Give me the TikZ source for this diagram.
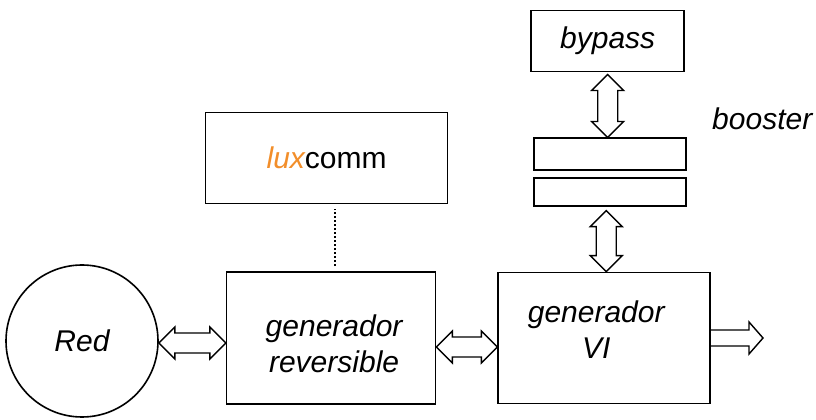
\documentclass[tikz,border=0pt]{standalone}
\usepackage{fontspec}
\setmainfont{Liberation Sans}
\usepackage{tikz}
\usetikzlibrary{positioning,calc}
\definecolor{luxorange}{RGB}{242,142,42}
\newcommand{\HDblArrow}[2]{%
  \draw[fatarrow] let \p1=(#1), \p2=(#2) in
    (\x1,\y1) -- (\x1+16pt,\y1+16pt) -- (\x1+16pt,\y1+10pt) -- (\x2-16pt,\y1+10pt)
    -- (\x2-16pt,\y1+16pt) -- (\x2,\y1) -- (\x2-16pt,\y1-16pt) -- (\x2-16pt,\y1-10pt)
    -- (\x1+16pt,\y1-10pt) -- (\x1+16pt,\y1-16pt) -- cycle;}
\newcommand{\VDblArrow}[2]{%
  \draw[fatarrow] let \p1=(#1), \p2=(#2) in
    (\x1,\y1) -- (\x1+16pt,\y1-16pt) -- (\x1+10pt,\y1-16pt) -- (\x1+10pt,\y2+16pt)
    -- (\x1+16pt,\y2+16pt) -- (\x1,\y2) -- (\x1-16pt,\y2+16pt) -- (\x1-10pt,\y2+16pt)
    -- (\x1-10pt,\y1-16pt) -- (\x1-16pt,\y1-16pt) -- cycle;}

\begin{document}
\begin{tikzpicture}[x=1pt, y=1pt,
    font=\fontsize{30}{36}\selectfont,
    blk/.style={draw, line width=1.6pt, align=center, inner sep=0pt},
    bar/.style={draw, line width=1.6pt, minimum width=152pt, inner sep=0pt},
    round/.style={draw, circle, line width=1.6pt, minimum size=152pt, inner sep=0pt},
    inside/.style={align=center, inner sep=0pt},
    fatarrow/.style={draw, line width=1.4pt, line join=miter, fill=white}]
  \useasboundingbox (0,0) rectangle (816,420);

  % Define nodes
  \node[round]                                     (Red)     at (82,79) {\itshape Red};
  \node[blk, minimum width=209pt, minimum height=132pt, right=67pt of Red, yshift=3pt,
        label={[inside, xshift=3pt, yshift=-6pt]center:{\itshape generador\\\itshape reversible}}]
                                                   (genrev)  {};
  \node[blk, minimum width=212pt, minimum height=131pt, right=61pt of genrev,
        label={[inside, xshift=-8pt, yshift=8pt]center:{\itshape generador\\\itshape VI}}]
                                                   (genVI)   {};
  \node[blk, minimum width=242pt, minimum height=91pt, above=67pt of genrev, xshift=-4.5pt]
                                                   (luxcomm) {\textcolor{luxorange}{\itshape lux}comm};
  \node[bar, minimum height=28pt, above=65pt of genVI, xshift=6pt] (bar2) {};
  \node[bar, minimum height=32pt, above=6pt of bar2]              (bar1) {};
  \node[blk, minimum width=153pt, minimum height=61pt, above=65pt of bar1, xshift=-2.5pt]
                                                   (bypass)  {\itshape bypass};
  \node[right=25pt of bar1, yshift=36pt, inner sep=0pt] (booster) {\itshape booster};
  \coordinate[right=52pt of genVI] (out);

  % Connect the nodes
  \HDblArrow{$(Red.east)+(0,-2)$}{genrev.west}
  \HDblArrow{$(genrev.east)+(0,-9)$}{genVI.west}
  \VDblArrow{$(bypass.south)+(0,-2)$}{bar1.north}
  \VDblArrow{$(bar2.south)+(-4,-4)$}{genVI.north}
  \draw[fatarrow] let \p1=(genVI.east), \p2=(out) in
    (\x1,\y1+8pt) -- (\x2-14pt,\y1+8pt) -- (\x2-14pt,\y1+16pt) -- (\x2,\y1)
    -- (\x2-14pt,\y1-16pt) -- (\x2-14pt,\y1-8pt) -- (\x1,\y1-8pt);
  \draw[line width=1.8pt, dash pattern=on 2pt off 2pt, shorten <=5pt, shorten >=5pt]
    ([xshift=3.5pt]genrev.north) -- ([xshift=3.5pt]genrev.north |- luxcomm.south);
\end{tikzpicture}
\end{document}
